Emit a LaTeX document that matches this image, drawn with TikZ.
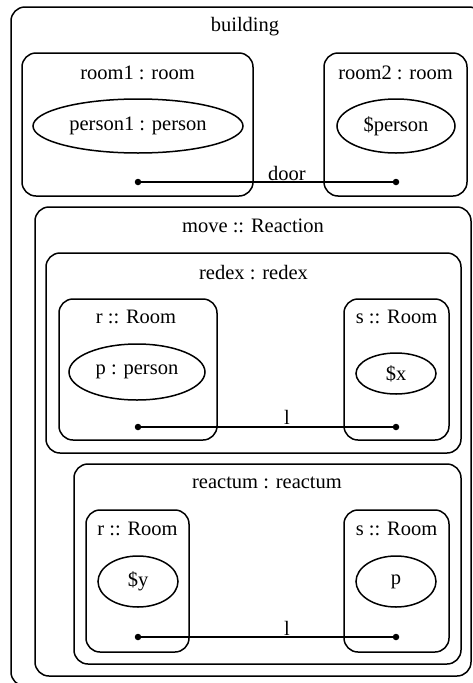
\documentclass[tikz,border=0pt]{standalone}
\usepackage{fontspec}
\setmainfont{Liberation Serif}
\usetikzlibrary{shapes.geometric}
\begin{document}
\begin{tikzpicture}[x=1pt,y=-1pt, font=\fontsize{20.5}{24}\selectfont,
 box/.style={draw, line width=1.5pt, rounded corners=14pt, rectangle, inner sep=0pt},
 ell/.style={draw, line width=1.5pt, ellipse, inner sep=0pt},
 lbl/.style={inner sep=0pt, anchor=center},
 dotnode/.style={circle, fill, inner sep=0pt, minimum size=6.5pt},
 link/.style={line width=1.5pt}]
\useasboundingbox (0,0) rectangle (473,683);
\clip (0,0) rectangle (473,683);
% building
\node[box, minimum width=472pt, minimum height=679pt] (building) at (247,346.5) {};
\node[lbl] (buildinglbl) at (245,27) {building};
% room1
\node[box, minimum width=231pt, minimum height=143pt] (room1) at (137.5,124.5) {};
\node[lbl] (room1lbl) at (137.5,73) {room1 : room};
\node[ell, minimum width=210pt, minimum height=54pt] (person1) at (138,126) {person1 : person};
% room2
\node[box, minimum width=143pt, minimum height=143pt] (room2) at (395.5,124.5) {};
\node[lbl] (room2lbl) at (395.5,73) {room2 : room};
\node[ell, minimum width=118pt, minimum height=54pt] (sperson) at (396,126) {\$person};
% door
\node[dotnode] (door1) at (138,182) {};
\node[dotnode] (door2) at (396,182) {};
\draw[link] (door1) -- (door2);
\node[lbl] (doorlbl) at (287,173) {door};
% move
\node[box, minimum width=436pt, minimum height=469pt] (move) at (253,441.5) {};
\node[lbl] (movelbl) at (253,226) {move :: Reaction};
% redex
\node[box, minimum width=415pt, minimum height=200pt] (redex) at (253.5,353) {};
\node[lbl] (redexlbl) at (253.5,272.5) {redex : redex};
\node[box, minimum width=158pt, minimum height=141pt] (rr) at (138,369.5) {};
\node[lbl] (rrlbl) at (136,317) {r :: Room};
\node[ell, minimum width=136pt, minimum height=56pt] (pp) at (137,372) {p : person};
\node[box, minimum width=105pt, minimum height=141pt] (rs) at (396.5,369.5) {};
\node[lbl] (rslbl) at (396.5,317) {s :: Room};
\node[ell, minimum width=80pt, minimum height=41pt] (sx) at (396,373.5) {\$x};
\node[dotnode] (l1a) at (138,427) {};
\node[dotnode] (l1b) at (396,427) {};
\draw[link] (l1a) -- (l1b);
\node[lbl] (l1lbl) at (287,417) {l};
% reactum
\node[box, minimum width=387pt, minimum height=200pt] (reactum) at (267.5,564) {};
\node[lbl] (reactumlbl) at (267,483) {reactum : reactum};
\node[box, minimum width=103pt, minimum height=142pt] (tr) at (137.5,581) {};
\node[lbl] (trlbl) at (137.5,529) {r :: Room};
\node[ell, minimum width=80pt, minimum height=51pt] (sy) at (138,581.5) {\$y};
\node[box, minimum width=105pt, minimum height=142pt] (ts) at (396.5,581) {};
\node[lbl] (tslbl) at (396.5,529) {s :: Room};
\node[ell, minimum width=80pt, minimum height=51pt] (tp) at (396,581.5) {p};
\node[dotnode] (l2a) at (138,637) {};
\node[dotnode] (l2b) at (396,637) {};
\draw[link] (l2a) -- (l2b);
\node[lbl] (l2lbl) at (287,628) {l};
\end{tikzpicture}
\end{document}
